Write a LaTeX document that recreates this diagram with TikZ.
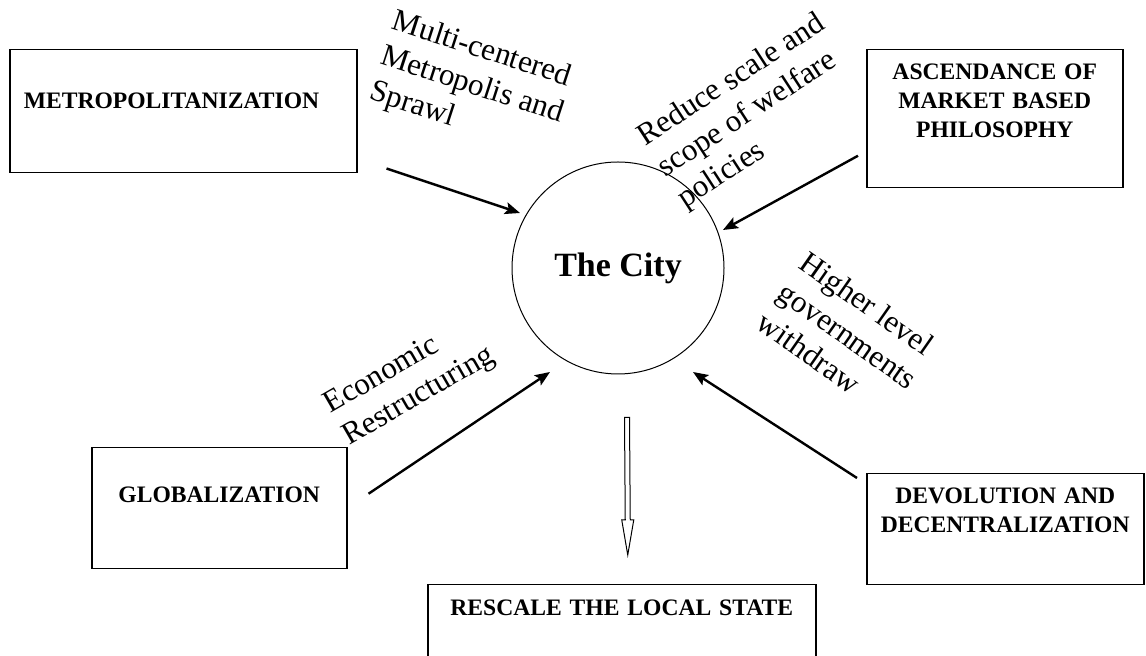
\documentclass[tikz,border=0pt]{standalone}
\usepackage{fontspec}
\setmainfont{Liberation Serif}
\usetikzlibrary{arrows.meta, calc}

\begin{document}
\begin{tikzpicture}[
                x=0.5pt, y=-0.5pt,
                box/.style={rectangle, draw=black, line width=0.75pt, anchor=north west, inner xsep=0pt, inner ysep=0pt, align=center, font=\fontsize{11.8}{14.5}\selectfont\bfseries},
                force/.style={align=left, font=\fontsize{15.6}{18.5}\selectfont},
                arrow/.style={line width=1.2pt, -{Stealth[length=7.5pt, width=6pt, inset=1.5pt]}},
                hollow/.style={draw=black, line width=0.5pt, fill=white}
            ]

                \useasboundingbox (0,0) rectangle (1146,656);
                \clip (0,0) rectangle (1146,656);

                % Nodes
                \node (city) [circle, draw, line width=0.5pt, minimum size=106pt, inner sep=0pt, font=\fontsize{17}{20}\selectfont\bfseries] at (618,268) {The City};
                \node (metro) [box, align=left, inner xsep=7pt, text width=159.5pt, text height=29.5pt, text depth=32pt] at (9,49) {METROPOLITANIZATION};
                \node (market) [box, text width=128pt, text height=15pt, text depth=54pt] at (866,49) {ASCENDANCE OF\\MARKET BASED\\PHILOSOPHY};
                \node (global) [box, text width=127.5pt, text height=27.5pt, text depth=33pt] at (91,447) {GLOBALIZATION};
                \node (devolve) [box, text width=138.5pt, text height=15pt, text depth=40.5pt] at (866,473) {DEVOLUTION AND\\DECENTRALIZATION};
                \node (rescale) [box, text width=194pt, text height=15.5pt, text depth=50pt] at (427,584) {RESCALE THE LOCAL STATE};

                % Labels
                \node (sprawl) [force, rotate=-18] at (472,86) {Multi-centered\\Metropolis and\\Sprawl};
                \node (welfare) [force, rotate=33] at (752,112) {Reduce scale and\\scope of welfare\\policies};
                \node (restructure) [force, rotate=30] at (410,381) {Economic\\Restructuring};
                \node (withdraw) [force, rotate=-35] at (848,335) {Higher level\\governments\\withdraw};

                % Arrows
                \draw [arrow] ([shift={(29,-5)}]metro.south east) -- ([shift={(-98,-55)}]city.center);
                \draw [arrow] ([shift={(-8,37)}]market.west) -- ([shift={(105,-38)}]city.center);
                \draw [arrow] ([shift={(21,-14.5)}]global.east) -- ([shift={(-68,104)}]city.center);
                \draw [arrow] ([shift={(-9,5)}]devolve.north west) -- ([shift={(75,104)}]city.center);

                % Hollow arrow down
                \coordinate (flowtop) at ([shift={(9,43)}]city.south);
                \coordinate (flowtip) at ([shift={(6,-29)}]rescale.north);
                \draw [hollow] ($(flowtop)+(-2.5,0)$) -- ($(flowtip)+(-2.5,-35)$) -- ($(flowtip)+(-6,-35)$) -- (flowtip) -- ($(flowtip)+(6,-35)$) -- ($(flowtip)+(2.5,-35)$) -- ($(flowtop)+(2.5,0)$) -- cycle;

            \end{tikzpicture}
\end{document}
